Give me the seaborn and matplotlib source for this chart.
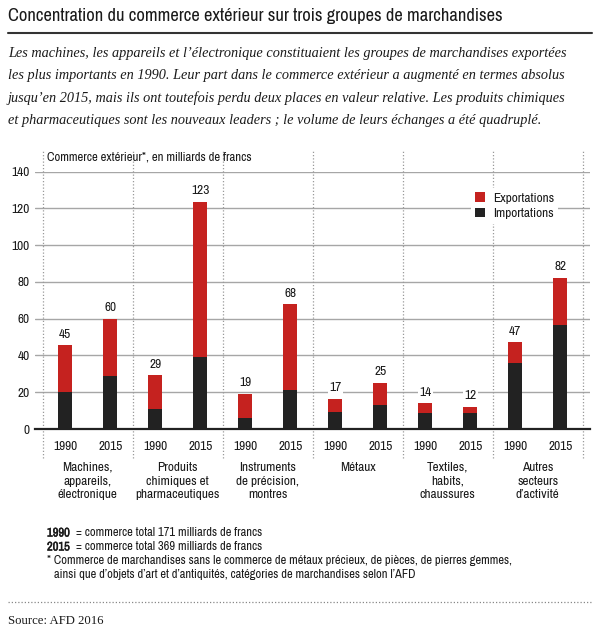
import matplotlib
matplotlib.use("Agg")
import matplotlib.pyplot as plt
from matplotlib import font_manager as fm
from matplotlib import patheffects as pe
from matplotlib.patches import Patch
from matplotlib.lines import Line2D
from matplotlib.transforms import blended_transform_factory
import seaborn as sns
import pandas as pd

# ---------------- data ----------------
categories = [
    "Machines,\nappareils,\nélectronique",
    "Produits\nchimiques et\npharmaceutiques",
    "Instruments\nde précision,\nmontres",
    "Métaux",
    "Textiles,\nhabits,\nchaussures",
    "Autres\nsecteurs\nd’activité",
]
years = ["1990", "2015"]
imports_1990 = [20, 11, 6, 9.5, 8.7, 36]
exports_1990 = [25.5, 18.3, 13.3, 7, 5.2, 11.2]
imports_2015 = [29, 39, 21, 13.2, 8.7, 56.6]
exports_2015 = [31, 84.5, 46.7, 11.8, 3.4, 25.5]
total_labels_1990 = [45, 29, 19, 17, 14, 47]
total_labels_2015 = [60, 123, 68, 25, 12, 82]
y_ticks = [0, 20, 40, 60, 80, 100, 120, 140]

RED = "#c5221f"
BLACK = "#222222"
GRID = "#a6a6a6"
TXT = "#1a1a1a"

rows = []
for i, cat in enumerate(categories):
    for y, imp, exp, lab in (
        ("1990", imports_1990[i], exports_1990[i], total_labels_1990[i]),
        ("2015", imports_2015[i], exports_2015[i], total_labels_2015[i]),
    ):
        rows.append({"key": f"{i}-{y}", "year": y, "imports": imp,
                     "exports": exp, "total": imp + exp, "label": lab})
df = pd.DataFrame(rows)
order = list(df["key"])

sns.set_theme(style="white")

# pick a condensed sans if one is installed
ttf = fm.fontManager.ttflist
cond_name, cond_stretch, found = "DejaVu Sans", "normal", "none"
narrow = [f.name for f in ttf if ("Narrow" in f.name or "Condensed" in f.name)]
dv_cond = [f for f in ttf if f.name == "DejaVu Sans" and
           str(f.stretch) in ("condensed", "semi-condensed", "75", "87")]
if narrow:
    cond_name, found = narrow[0], "narrow"
elif dv_cond:
    cond_name, cond_stretch, found = "DejaVu Sans", "condensed", "dvcond"
else:
    cond_name, found = "Roboto", "roboto"
COND = [cond_name, "DejaVu Sans"]
SERIF = ["Liberation Serif", "DejaVu Serif"]
plt.rcParams["font.family"] = COND
plt.rcParams["font.stretch"] = cond_stretch
SCALE = 1.0 if found in ("narrow", "dvcond") else 0.88

# bold variant of the condensed family, if present
bold_files = [f.fname for f in ttf if f.name == cond_name and
              (f.weight in ("bold", 700, "700") or "Bold" in f.fname)
              and "Italic" not in f.fname]

fig = plt.figure(figsize=(6, 6.36), dpi=100)
W, H = 600.0, 636.0
ax = fig.add_axes([35 / W, 1 - 429 / H, 555 / W, 257.5 / H])

sns.barplot(data=df, x="key", y="total", order=order, color=RED,
            saturation=1, width=0.31, errorbar=None, ax=ax, zorder=3)
sns.barplot(data=df, x="key", y="imports", order=order, color=BLACK,
            saturation=1, width=0.31, errorbar=None, ax=ax, zorder=3)
for p in ax.patches:
    p.set_linewidth(0)

FS = 9.6 * SCALE
ax.set_xlim(-0.673, 11.66)
ax.set_ylim(0, 140)
ax.set_yticks(y_ticks)
ax.set_yticklabels([str(t) for t in y_ticks])
ax.set_xticks(range(len(order)))
ax.set_xticklabels(list(df["year"]))
ax.set_xlabel("")
ax.set_ylabel("")
ax.tick_params(axis="both", length=0, labelsize=FS, colors=TXT)
ax.tick_params(axis="y", pad=4)
ax.tick_params(axis="x", pad=8.5)
ax.yaxis.grid(True, color=GRID, lw=1)
ax.xaxis.grid(False)
ax.set_axisbelow(True)
for s in ["top", "right", "left"]:
    ax.spines[s].set_visible(False)
ax.spines["bottom"].set_color(BLACK)
ax.spines["bottom"].set_linewidth(1.6)
ax.spines["bottom"].set_zorder(4)

# group separators
for k in range(len(categories) + 1):
    ax.axvline(2 * k - 0.5, ymin=-0.113, ymax=1.078, clip_on=False,
               color="#9a9a9a", lw=0.9, ls=(0, (1, 1.6)), zorder=1)

# value labels
for i, r in df.iterrows():
    ax.annotate(str(r["label"]), (i, r["total"]), xytext=(0, 4),
                textcoords="offset points", ha="center", va="bottom",
                fontsize=FS, color=TXT, zorder=5,
                bbox=dict(fc="white", ec="none", pad=1.2))

# category labels
tr = blended_transform_factory(ax.transData, fig.transFigure)
for g, cat in enumerate(categories):
    ax.text(2 * g + 0.5, 1 - 462 / H, cat, transform=tr, ha="center",
            va="top", fontsize=FS, color=TXT, linespacing=1.28)

# axis title
ax.text(47 / W, 1 - 157 / H, "Commerce extérieur*, en milliards de francs",
        transform=fig.transFigure, ha="left", va="center", fontsize=9.2 * SCALE,
        color=TXT)

# legend
handles = [Patch(fc=RED, ec="none", label="Exportations"),
           Patch(fc=BLACK, ec="none", label="Importations")]
leg = ax.legend(handles=handles, loc="upper left",
                bbox_to_anchor=(0.785, 0.937), frameon=True, fontsize=FS,
                handlelength=0.7, handleheight=0.7, handletextpad=0.6,
                labelspacing=0.3, borderpad=0.35, borderaxespad=0)
leg.get_frame().set_facecolor("white")
leg.get_frame().set_edgecolor("none")
leg.get_frame().set_alpha(1)
leg.set_zorder(6)
for t in leg.get_texts():
    t.set_color(TXT)

# title and rule
fig.text(8 / W, 1 - 16 / H,
         "Concentration du commerce extérieur sur trois groupes de marchandises",
         ha="left", va="center", fontsize=13.3 * SCALE, color=TXT)
fig.add_artist(Line2D([8 / W, 592 / W], [1 - 33 / H] * 2, color="#333333",
                      lw=1.5))

para = [
    "Les machines, les appareils et l’électronique constituaient les groupes de marchandises exportées",
    "les plus importants en 1990. Leur part dans le commerce extérieur a augmenté en termes absolus",
    "jusqu’en 2015, mais ils ont toutefois perdu deux places en valeur relative. Les produits chimiques",
    "et pharmaceutiques sont les nouveaux leaders ; le volume de leurs échanges a été quadruplé.",
]
for j, line in enumerate(para):
    fig.text(8 / W, 1 - (53 + 22.6 * j) / H, line, ha="left", va="center",
             fontsize=10.3, style="italic", family=SERIF, color=TXT)

# footnotes
FN = 9.0 * SCALE
if bold_files:
    bold_kw = dict(fontproperties=fm.FontProperties(fname=bold_files[0], size=FN))
else:
    bold_kw = dict(fontsize=FN, weight="bold",
                   path_effects=[pe.withStroke(linewidth=0.35, foreground=TXT)])
for yy, yr, txt in ((533, "1990", "= commerce total 171 milliards de francs"),
                    (547, "2015", "= commerce total 369 milliards de francs")):
    fig.text(47 / W, 1 - yy / H, yr, ha="left", va="center", color=TXT,
             **bold_kw)
    fig.text(76 / W, 1 - yy / H, txt, ha="left", va="center", fontsize=FN,
             color=TXT)
fig.text(47 / W, 1 - 561 / H,
         "* Commerce de marchandises sans le commerce de métaux précieux, de pièces, de pierres gemmes,",
         ha="left", va="center", fontsize=FN, color=TXT)
fig.text(54 / W, 1 - 575 / H,
         "ainsi que d’objets d’art et d’antiquités, catégories de marchandises selon l’AFD",
         ha="left", va="center", fontsize=FN, color=TXT)

fig.add_artist(Line2D([8 / W, 592 / W], [1 - 602 / H] * 2, color="#888888",
                      lw=0.9, ls=(0, (1, 1.6))))
fig.text(8 / W, 1 - 621 / H, "Source: AFD 2016", ha="left", va="center",
         fontsize=9.2, family=SERIF, color=TXT)

fig.savefig("out.png", dpi=100, facecolor="white")
